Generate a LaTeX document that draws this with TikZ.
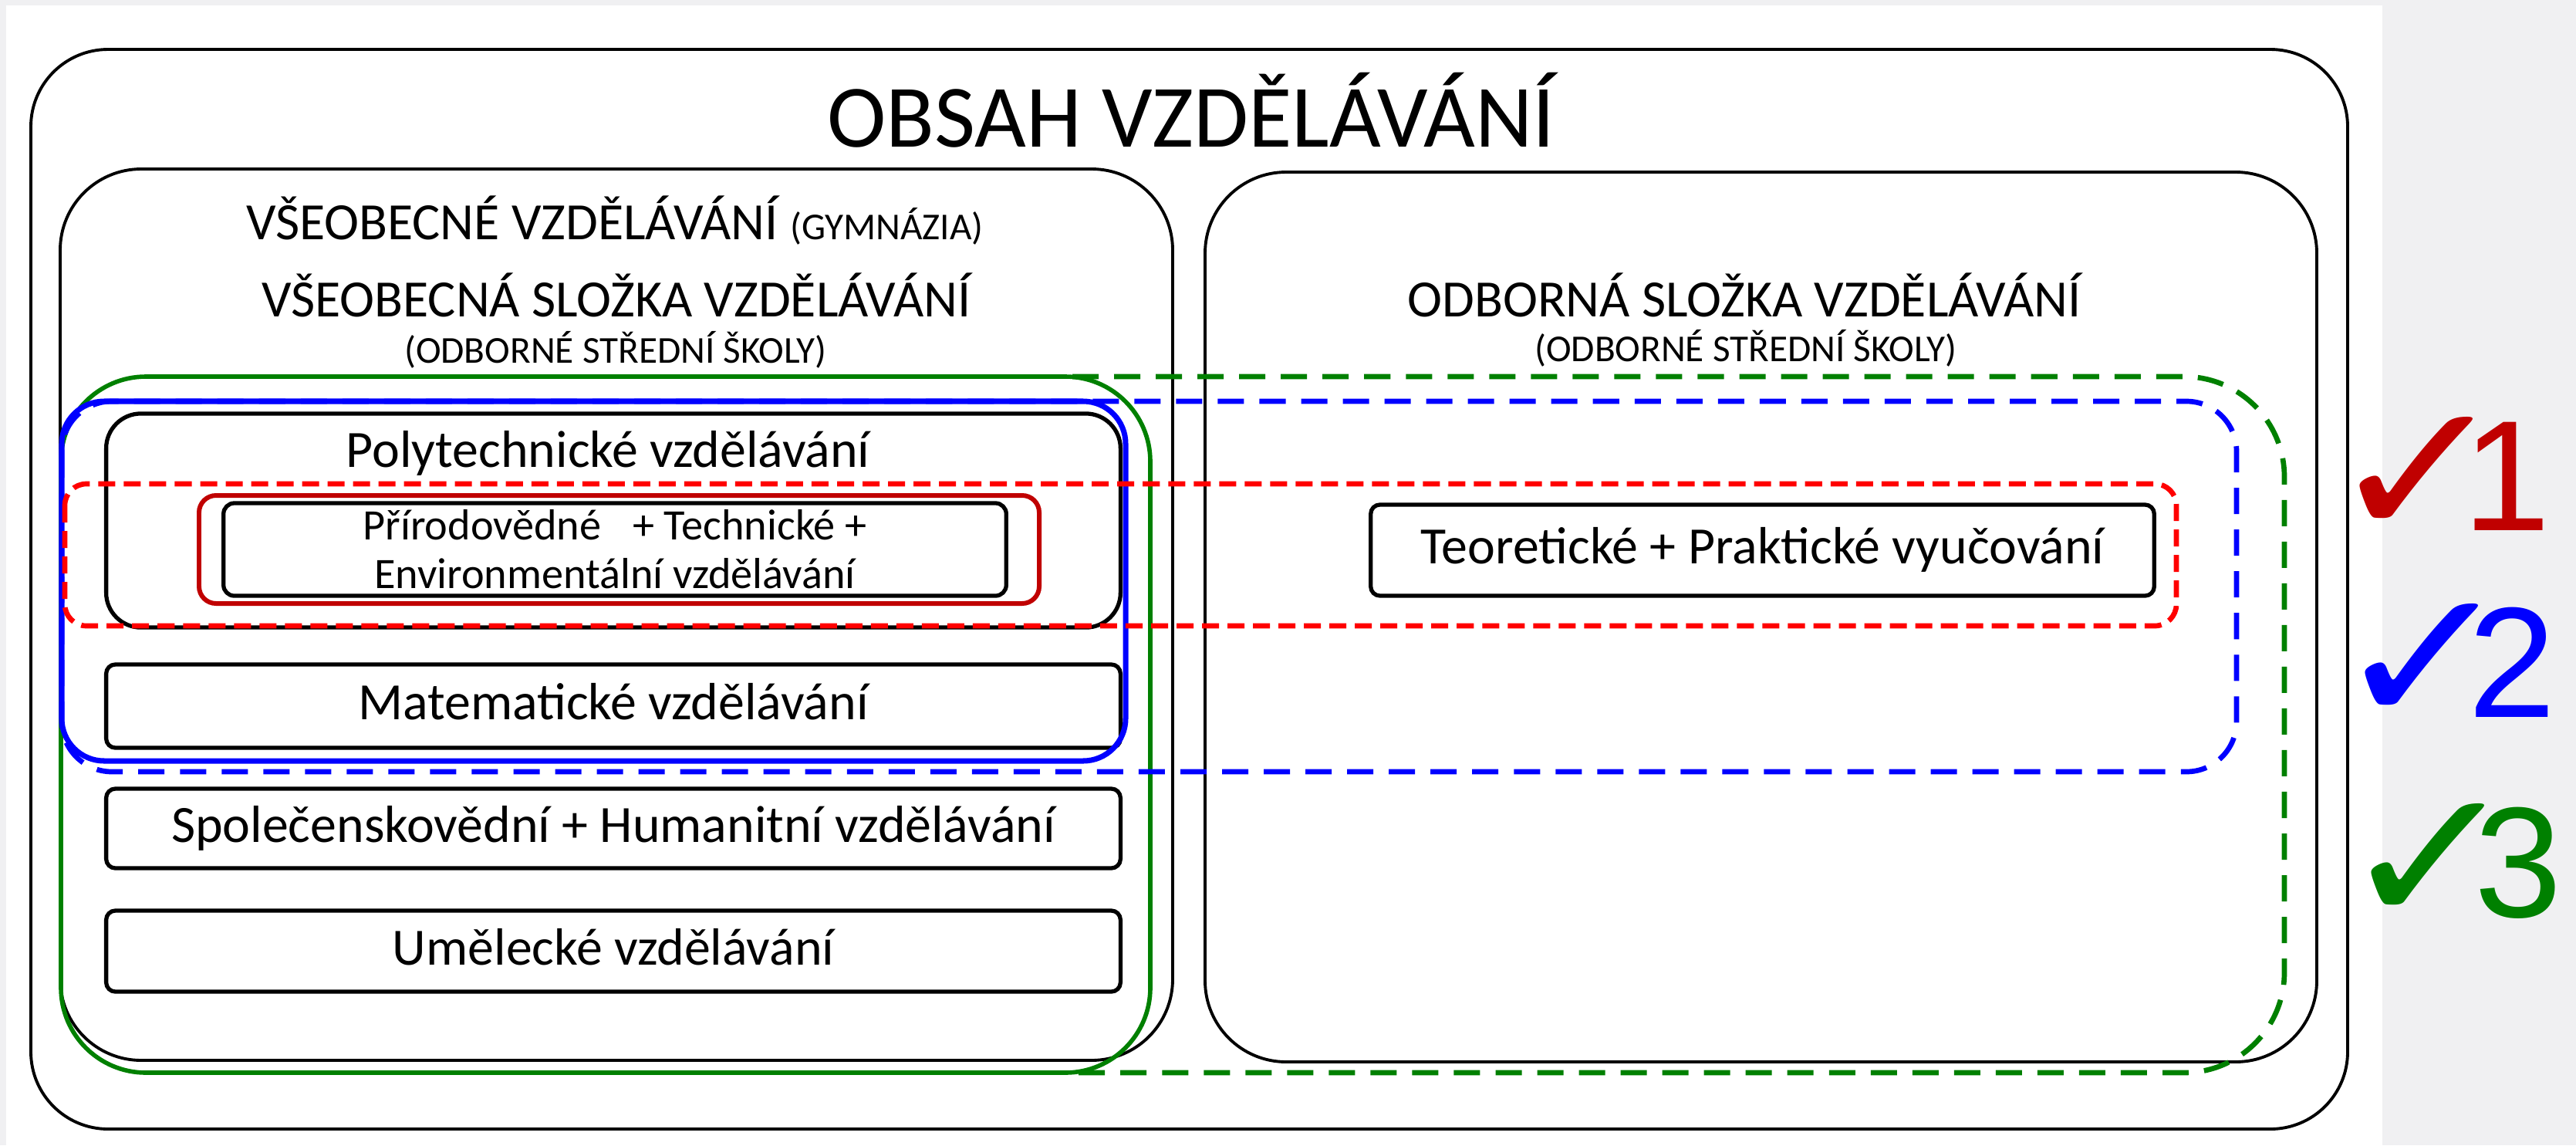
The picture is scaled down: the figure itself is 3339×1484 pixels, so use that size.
\documentclass[tikz,border=0pt]{standalone}
\usepackage{fontspec}
\setmainfont{Carlito}
\newfontfamily\symfont{DejaVu Sans}
\newfontfamily\numfont{Liberation Sans}
\definecolor{bgray}{HTML}{F0F0F2}
\definecolor{chkred}{HTML}{C00000}
\definecolor{dashred}{HTML}{FF0000}
\definecolor{lineblue}{HTML}{0000FF}
\definecolor{linegreen}{HTML}{008000}
\tikzset{
  frame/.style={draw, line width=1.1pt, rounded corners=1cm},
  subject/.style={draw, line width=1.5pt, rounded corners=0.12cm, inner sep=0pt,
    minimum width=13.14cm, font=\fontsize{19.3}{23}\selectfont,
    text height=14pt, text depth=4pt},
  title/.style={anchor=base, inner sep=0pt, font=\fontsize{32.8}{38}\selectfont},
  heading/.style={anchor=base, inner sep=0pt, font=\fontsize{19.3}{23}\selectfont},
  note/.style={anchor=base, inner sep=0pt, font=\fontsize{14}{16}\selectfont},
  group/.style={line width=1.9pt},
  longdash/.style={dash pattern=on 0.34cm off 0.2cm},
  shortdash/.style={dash pattern=on 0.22cm off 0.11cm},
  level/.style={anchor=base west, inner sep=0pt, font=\numfont\fontsize{58}{64}\selectfont}
}
\newcommand{\tick}{\makebox[1.76cm][l]{\raisebox{-2.5pt}{\scalebox{1.15}[1]{\symfont\fontsize{70}{70}\selectfont ✓}}}}
\begin{document}
\begin{tikzpicture}[x=0.01cm, y=-0.01cm]
  % canvas
  \fill[bgray] (0,0) rectangle (3339,1484);
  \fill[white] (8,7) rectangle (3088,1484);

  % containers
  \draw[frame] (40,64) rectangle (3043,1463);
  \draw[frame, rounded corners=1.05cm] (78,219) rectangle (1520,1374);
  \draw[frame, rounded corners=1.05cm] (1562,223) rectangle (3003,1376);

  \node[title] (obsah) at (1544,190) {OBSAH VZDĚLÁVÁNÍ};
  \node[heading] (gym) at (797,310) {VŠEOBECNÉ VZDĚLÁVÁNÍ {\fontsize{14}{16}\selectfont (GYMNÁZIA)}};
  \node[heading] (vseob) at (799,410) {VŠEOBECNÁ SLOŽKA VZDĚLÁVÁNÍ};
  \node[note] (oss1) at (798,470) {(ODBORNÉ STŘEDNÍ ŠKOLY)};
  \node[heading] (odbor) at (2261,410) {ODBORNÁ SLOŽKA VZDĚLÁVÁNÍ};
  \node[note] (oss2) at (2263,468) {(ODBORNÉ STŘEDNÍ ŠKOLY)};

  % subject boxes
  \node[subject, rounded corners=0.45cm, minimum height=2.77cm] (poly) at (795,674.5) {};
  \node[heading] (polytxt) at (788,605) {Polytechnické vzdělávání};
  \node[subject, rounded corners=0.14cm, minimum width=10.14cm, minimum height=1.2cm,
    align=center, font=\fontsize{16}{17.9}\selectfont, text height=, text depth=] (prir) at (797,712)
    {Přírodovědné\hspace{0.5em} + Technické +\\Environmentální vzdělávání};
  \node[subject, minimum height=1.08cm] (mat) at (795,915) {Matematické vzdělávání};
  \node[subject, minimum height=1.03cm] (spol) at (795,1073.5) {Společenskovědní + Humanitní vzdělávání};
  \node[subject, minimum height=1.05cm] (umel) at (795,1232.5) {Umělecké vzdělávání};
  \node[subject, minimum width=10.15cm, minimum height=1.18cm] (teor) at (2284.5,713) {Teoretické + Praktické vyučování};

  % groups
  \draw[group, linegreen, longdash, rounded corners=1.3cm] (1390,488) -- (2961,488) -- (2961,1390) -- (1390,1390);
  \draw[group, linegreen, line width=1.6pt, rounded corners=1.1cm] (79,488) rectangle (1491,1390);
  \draw[group, lineblue, longdash, rounded corners=0.65cm] (80,520) rectangle (2899,1000);
  \draw[group, lineblue, line width=2pt, rounded corners=0.55cm] (80,520) rectangle (1459,986);
  \draw[group, dashred, shortdash, rounded corners=0.28cm] (84,627) rectangle (2821,811);
  \draw[group, chkred, line width=1.7pt, rounded corners=0.22cm] (258,642) rectangle (1347,782);

  % levels
  \node[level, text=chkred] (lvl1) at (3016,687) {\tick1};
  \node[level, text=lineblue] (lvl2) at (3023,929) {\tick2};
  \node[level, text=linegreen] (lvl3) at (3031,1188) {\tick3};
\end{tikzpicture}
\end{document}
